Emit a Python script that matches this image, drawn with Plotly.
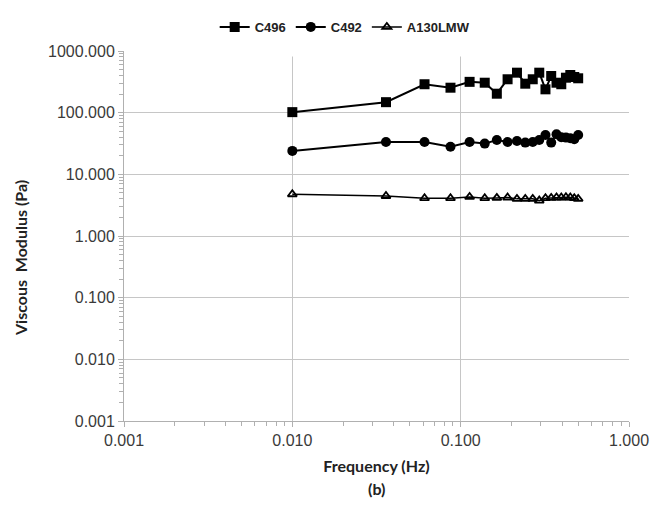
import plotly.graph_objects as go

freq = [0.010, 0.036, 0.061, 0.087, 0.113, 0.139, 0.164, 0.190, 0.216, 0.242,
        0.268, 0.293, 0.319, 0.345, 0.371, 0.396, 0.422, 0.448, 0.473, 0.499]
c496 = [102, 148, 289, 254, 316, 306, 203, 348, 445, 295,
        348, 445, 239, 393, 306, 289, 369, 408, 379, 361]
c492 = [24.0, 33.5, 33.5, 28.0, 33.5, 31.5, 36.0, 33.5, 34.8, 32.7,
        33.5, 36.0, 43.5, 32.7, 44.7, 40.0, 39.4, 38.5, 37.0, 43.5]
a130 = [4.75, 4.45, 4.10, 4.10, 4.30, 4.10, 4.15, 4.20, 4.00, 4.00,
        4.00, 3.75, 4.10, 4.15, 4.20, 4.20, 4.25, 4.20, 4.10, 4.00]

tick_vals = [0.001, 0.01, 0.1, 1, 10, 100, 1000]
tick_text = ["0.001", "0.010", "0.100", "1.000", "10.000", "100.000", "1000.000"]
x_tick_vals = [0.001, 0.01, 0.1, 1]
x_tick_text = ["0.001", "0.010", "0.100", "1.000"]

minor_y = [m * d for d in [0.001, 0.01, 0.1, 1, 10, 100] for m in range(2, 10)]
minor_x = [m * d for d in [0.001, 0.01, 0.1] for m in range(2, 10)]

fig = go.Figure()
fig.add_trace(go.Scatter(x=freq, y=c496, name="C496", mode="lines+markers",
                         line=dict(color="black", width=2),
                         marker=dict(symbol="square", size=10, color="black")))
fig.add_trace(go.Scatter(x=freq, y=c492, name="C492", mode="lines+markers",
                         line=dict(color="black", width=2),
                         marker=dict(symbol="circle", size=10, color="black")))
fig.add_trace(go.Scatter(x=freq, y=a130, name="A130LMW", mode="lines+markers",
                         line=dict(color="black", width=1.5),
                         marker=dict(symbol="triangle-up-open", size=8, color="black",
                                     line=dict(color="black", width=1.8))))

tickfont = dict(family="Liberation Sans, Arial, sans-serif", size=16, color="#3a3a3a")
titlefont = dict(family="Lato, sans-serif", size=16, color="#222222", weight="bold")

fig.update_layout(
    width=650, height=505,
    margin=dict(l=124, r=21, t=51, b=84, autoexpand=False),
    paper_bgcolor="white", plot_bgcolor="white",
    showlegend=True,
    legend=dict(orientation="h", x=0.438, xanchor="center", y=1.065, yanchor="middle",
                bgcolor="white", bordercolor="white", borderwidth=4,
                font=dict(family="Liberation Sans, Arial, sans-serif", size=13,
                          color="#222222", weight="bold"),
                itemwidth=30, tracegroupgap=0),
    xaxis=dict(type="log", range=[-3, 0], tickvals=x_tick_vals, ticktext=x_tick_text,
               showgrid=True, gridcolor="#c6c6c6", gridwidth=1,
               showline=True, linecolor="#b0b0b0", linewidth=1,
               ticks="outside", ticklen=5, tickcolor="#b0b0b0",
               minor=dict(tickvals=minor_x, ticks="outside", ticklen=4,
                          tickcolor="#b0b0b0", showgrid=False),
               tickfont=tickfont, zeroline=False,
               title=dict(text="Frequency (Hz)", font=titlefont, standoff=12)),
    yaxis=dict(type="log", range=[-3, 3], tickvals=tick_vals, ticktext=tick_text,
               showgrid=True, gridcolor="#c6c6c6", gridwidth=1,
               showline=True, linecolor="#b0b0b0", linewidth=1,
               ticks="outside", ticklen=5, tickcolor="#b0b0b0",
               minor=dict(tickvals=minor_y, ticks="outside", ticklen=4,
                          tickcolor="#b0b0b0", showgrid=False),
               tickfont=tickfont, zeroline=False),
    annotations=[
        dict(text="(b)", x=0.5, xref="paper", y=(421 - 488) / 370.0,
             yref="paper", yanchor="middle", showarrow=False, font=titlefont),
        dict(text="Viscous  Modulus (Pa)", x=(20 - 124) / 505.0, xref="paper",
             y=(421 - 258) / 370.0, yref="paper", xanchor="center", yanchor="middle",
             textangle=-90, showarrow=False, font=titlefont),
    ],
    shapes=[dict(type="rect", xref="paper", yref="paper",
                 x0=(208 - 124) / 505.0, x1=(476 - 124) / 505.0,
                 y0=0.985, y1=1.02, fillcolor="white", line=dict(width=0),
                 layer="above")],
)

fig.write_html("out.html")
